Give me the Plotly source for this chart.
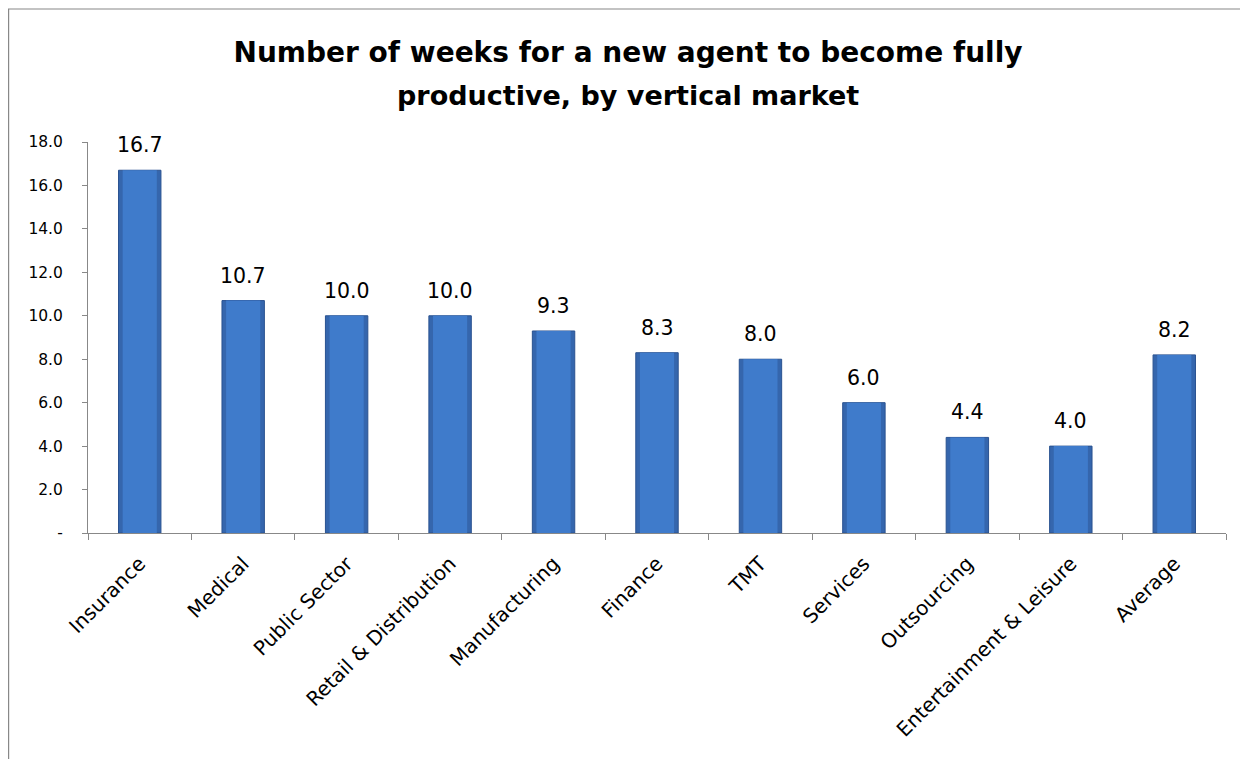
import plotly.graph_objects as go

# data
categories = ["Insurance", "Medical", "Public Sector", "Retail & Distribution", "Manufacturing",
              "Finance", "TMT", "Services", "Outsourcing", "Entertainment & Leisure", "Average"]
weeks = [16.7, 10.7, 10.0, 10.0, 9.3, 8.3, 8.0, 6.0, 4.4, 4.0, 8.2]
y_ticks = [0, 2, 4, 6, 8, 10, 12, 14, 16, 18]
y_tick_labels = ["-", "2.0", "4.0", "6.0", "8.0", "10.0", "12.0", "14.0", "16.0", "18.0"]
title_lines = ["Number of weeks for a new agent to become fully", "productive, by vertical market"]

W, H = 1248, 759
# page body has an 8px margin, so figure coords = screen coords - 8
OFF = 8
L, R, T, B = 88 - OFF, 30, 142 - OFF, 759 - (533 - OFF)
FONT = "DejaVu Sans"

fig = go.Figure()
# outer bar (dark edge) + lighter inner bar to fake the Excel bevel
fig.add_trace(go.Bar(x=categories, y=weeks, width=0.41,
                     marker=dict(color="#3566ad", line=dict(color="#2a5290", width=1)),
                     hoverinfo="skip"))
fig.add_trace(go.Bar(x=categories, y=weeks, width=0.33,
                     marker=dict(color="#3f7bcb", line=dict(width=0))))

for c, v in zip(categories, weeks):
    fig.add_annotation(x=c, y=v, text=f"{v:.1f}", showarrow=False, yanchor="bottom", yshift=11,
                       font=dict(size=20.5, family=FONT, color="#000000"))

plot_h = H - T - B
fig.add_annotation(text=f"<b>{title_lines[1]}</b>", xref="paper", yref="paper",
                   x=(628 - OFF - L) / (W - L - R), xanchor="center",
                   y=1 + (T - (95 - OFF)) / plot_h, yanchor="middle", showarrow=False,
                   font=dict(size=27, family=FONT, color="#000000"))

fig.update_layout(
    width=W, height=H,
    margin=dict(l=L, r=R, t=T, b=B),
    paper_bgcolor="white", plot_bgcolor="white",
    showlegend=False, barmode="overlay",
    font=dict(family=FONT, color="#000000"),
    title=dict(text=f"<b>{title_lines[0]}</b>", x=(628 - OFF) / W, xanchor="center",
               y=1 - (52 - OFF) / H, yanchor="middle", font=dict(size=28, family=FONT)),
)
fig.update_yaxes(range=[0, 18], tickvals=y_ticks, ticktext=y_tick_labels,
                 showgrid=False, showline=True, linecolor="#888888", linewidth=1,
                 ticks="outside", ticklen=5, tickcolor="#888888", ticklabelstandoff=16,
                 tickfont=dict(size=15.5), zeroline=False)
fig.update_xaxes(showline=True, linecolor="#888888", linewidth=1, tickangle=-45,
                 ticks="outside", ticklen=6, tickcolor="#888888", tickson="boundaries",
                 ticklabelstandoff=10, tickfont=dict(size=20))

# chart frame (only top and left edges fall inside the picture)
px = lambda p: (p - OFF - L) / (W - L - R)
py = lambda p: 1 - (p - OFF - T) / plot_h
fig.add_shape(type="line", xref="paper", yref="paper", x0=px(8), x1=px(1256), y0=py(9), y1=py(9),
              line=dict(color="#888888", width=1.2))
fig.add_shape(type="line", xref="paper", yref="paper", x0=px(8.6), x1=px(8.6), y0=py(9), y1=py(767),
              line=dict(color="#888888", width=1.2))

fig.write_html("out.html")
